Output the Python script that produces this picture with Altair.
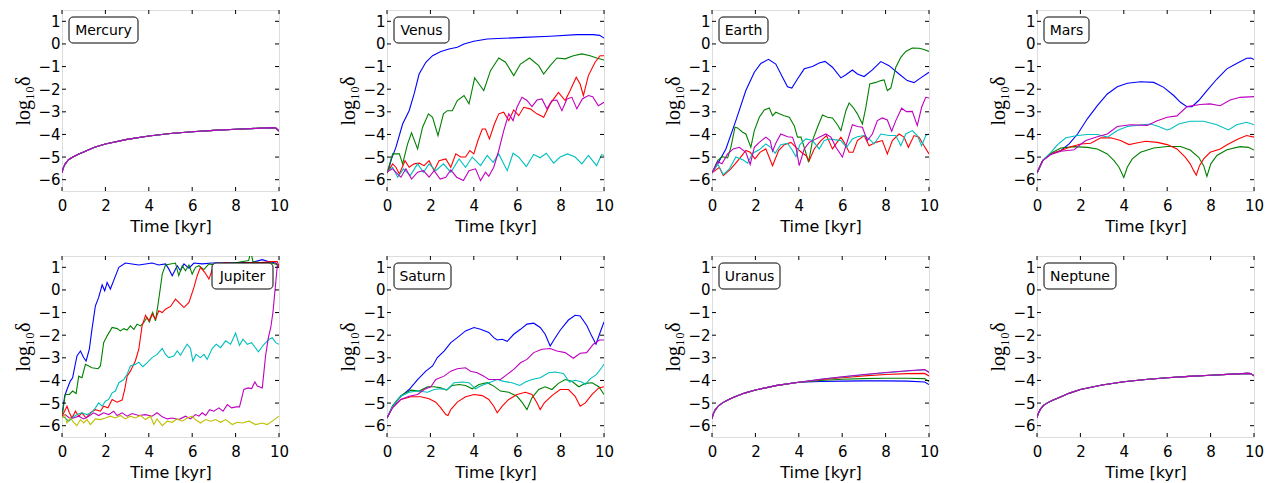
import altair as alt
import pandas as pd

# ---------------- axis / style lists ----------------
X_TICKS = [0, 2, 4, 6, 8, 10]
Y_TICKS = [-6, -5, -4, -3, -2, -1, 0, 1]
SERIES_COLORS = {"b": "#0000ff", "g": "#008000", "r": "#ff0000",
                 "c": "#00bfbf", "m": "#bf00bf", "y": "#bfbf00"}

# ---------------- data ----------------
# Mercury: all series coincide
mercury_t = [0, 0.05, 0.15, 0.3, 0.5, 0.75, 1, 1.5, 2, 3, 4, 5, 6, 7, 8, 9, 9.7, 9.85, 10]
mercury_v = [-5.7, -5.5, -5.3, -5.12, -5.0, -4.88, -4.78, -4.57, -4.42, -4.22, -4.07, -3.96,
             -3.88, -3.82, -3.77, -3.73, -3.7, -3.72, -3.85]

# Venus
venus_b_t = [0, 0.06, 0.2, 0.41, 0.72, 1.02, 1.25, 1.48, 1.79, 2.1, 2.48, 2.86, 3.24, 3.55, 4.0,
             4.62, 5.38, 6.3, 7.52, 8.75, 9.5, 9.8, 10]
venus_b_v = [-5.7, -5.6, -5.1, -4.57, -3.54, -2.95, -2.21, -1.33, -0.81, -0.52, -0.33, -0.22,
             -0.15, 0.0, 0.12, 0.22, 0.25, 0.29, 0.34, 0.41, 0.41, 0.38, 0.26]
venus_g_t = [0, 0.26, 0.57, 0.72, 0.95, 1.13, 1.41, 1.64, 1.91, 2.1, 2.35, 2.6, 2.78, 3.01, 3.24,
             3.55, 3.78, 4.04, 4.24, 4.46, 4.77, 5.15, 5.46, 5.84, 6.15, 6.57, 6.99, 7.22, 7.52,
             7.83, 8.21, 8.59, 8.98, 9.36, 9.66, 10]
venus_g_v = [-5.7, -4.86, -4.86, -5.3, -4.42, -3.93, -4.64, -3.68, -3.09, -3.24, -4.05, -3.09,
             -2.95, -2.95, -2.5, -2.28, -2.65, -1.5, -1.77, -2.06, -1.18, -0.62, -0.81, -1.4,
             -0.89, -0.62, -0.96, -1.33, -0.96, -0.62, -0.66, -0.52, -0.44, -0.52, -0.62, -0.71]
venus_r_t = [0, 0.26, 0.41, 0.57, 0.83, 1.02, 1.25, 1.48, 1.71, 1.94, 2.17, 2.4, 2.71, 2.94, 3.17,
             3.39, 3.62, 3.82, 4.0, 4.19, 4.39, 4.54, 4.72, 4.95, 5.15, 5.38, 5.61, 5.84, 6.07,
             6.3, 6.6, 6.91, 7.22, 7.52, 7.9, 8.21, 8.44, 8.72, 8.9, 9.05, 9.28, 9.59, 9.82, 10]
venus_r_v = [-5.7, -5.3, -5.45, -5.75, -5.16, -5.45, -5.3, -5.27, -5.38, -5.16, -5.6, -5.16,
             -5.08, -5.45, -4.86, -5.0, -5.0, -4.71, -4.86, -4.27, -3.76, -3.76, -4.2, -3.54,
             -3.09, -3.02, -3.39, -2.92, -3.17, -2.8, -2.87, -3.09, -3.24, -2.65, -2.14, -2.5,
             -2.06, -1.47, -1.77, -2.28, -1.4, -0.81, -0.52, -0.52]
venus_c_t = [0, 0.26, 0.49, 0.76, 1.07, 1.41, 1.68, 1.94, 2.25, 2.6, 2.94, 3.32, 3.62, 3.93, 4.31,
             4.62, 4.89, 5.15, 5.54, 5.81, 6.07, 6.42, 6.76, 7.06, 7.34, 7.68, 7.98, 8.32, 8.67,
             8.98, 9.28, 9.66, 9.89, 10]
venus_c_v = [-5.65, -5.45, -5.89, -5.52, -5.82, -5.3, -5.67, -5.3, -5.6, -5.3, -5.67, -5.08,
             -5.45, -5.0, -5.38, -4.93, -5.23, -4.86, -5.6, -4.83, -5.0, -5.42, -4.89, -5.03,
             -4.83, -5.27, -5.0, -4.86, -5.0, -5.3, -4.93, -5.38, -4.89, -4.93]
venus_m_t = [0, 0.26, 0.49, 0.64, 0.87, 1.13, 1.41, 1.68, 1.94, 2.17, 2.45, 2.71, 2.94, 3.21, 3.52,
             3.78, 4.08, 4.31, 4.54, 4.69, 4.92, 5.15, 5.38, 5.61, 5.81, 5.99, 6.22, 6.45, 6.68,
             6.91, 7.14, 7.37, 7.6, 7.83, 8.06, 8.29, 8.52, 8.75, 9.0, 9.28, 9.48, 9.74, 10]
venus_m_v = [-5.65, -5.52, -5.75, -5.89, -5.52, -5.97, -5.67, -5.6, -5.89, -5.6, -5.97, -5.89,
             -5.57, -5.89, -6.04, -5.6, -5.52, -6.04, -5.67, -5.85, -5.45, -4.71, -3.83, -3.09,
             -3.39, -2.8, -2.36, -2.5, -2.77, -2.48, -2.43, -2.87, -2.5, -2.48, -2.95, -2.43,
             -2.36, -2.87, -2.43, -2.28, -2.33, -2.73, -2.58]

# Earth
earth_b_t = [0, 0.26, 0.64, 1.1, 1.56, 1.95, 2.25, 2.6, 2.94, 3.25, 3.48, 3.68, 3.94, 4.25, 4.63,
             4.94, 5.21, 5.55, 5.94, 6.17, 6.47, 6.7, 7.01, 7.39, 7.78, 8.16, 8.62, 9.0, 9.31,
             9.62, 10]
earth_b_v = [-5.7, -5.3, -4.64, -3.39, -2.06, -1.25, -0.86, -0.68, -0.89, -1.47, -1.89, -1.95,
             -1.55, -1.1, -1.0, -0.84, -0.77, -1.03, -1.5, -1.36, -1.15, -1.33, -1.44, -1.15,
             -0.78, -0.96, -1.33, -1.62, -1.71, -1.5, -1.25]
earth_g_t = [0, 0.26, 0.46, 0.72, 0.87, 1.06, 1.18, 1.41, 1.56, 1.79, 1.95, 2.18, 2.41, 2.64, 2.79,
             2.94, 3.1, 3.33, 3.56, 3.79, 3.94, 4.1, 4.25, 4.45, 4.63, 4.86, 5.09, 5.32, 5.55,
             5.78, 5.94, 6.17, 6.32, 6.5, 6.7, 6.93, 7.09, 7.27, 7.55, 7.78, 7.93, 8.08, 8.24,
             8.47, 8.7, 8.93, 9.23, 9.54, 9.77, 10]
earth_g_v = [-5.7, -5.16, -4.98, -5.04, -4.57, -3.68, -3.71, -3.9, -3.98, -4.57, -3.83, -3.24,
             -2.92, -2.83, -3.17, -3.02, -3.09, -3.17, -3.24, -3.61, -4.12, -4.12, -4.57, -5.23,
             -4.27, -3.68, -3.14, -3.24, -3.27, -3.57, -3.83, -2.95, -2.61, -2.8, -3.09, -3.54,
             -2.8, -1.77, -1.7, -1.62, -1.59, -2.06, -1.95, -1.03, -0.59, -0.33, -0.18, -0.19,
             -0.25, -0.33]
earth_r_t = [0, 0.34, 0.52, 0.87, 1.26, 1.56, 1.76, 1.98, 2.21, 2.48, 2.79, 3.07, 3.33, 3.64, 3.87,
             4.17, 4.33, 4.48, 4.71, 5.02, 5.28, 5.55, 5.71, 5.94, 6.09, 6.32, 6.5, 6.7, 7.01,
             7.24, 7.55, 7.85, 8.08, 8.31, 8.62, 8.85, 9.05, 9.31, 9.54, 9.77, 10]
earth_r_v = [-5.7, -5.45, -5.82, -5.52, -5.08, -4.71, -4.79, -5.08, -4.79, -4.64, -5.38, -4.71,
             -4.45, -4.35, -4.57, -4.83, -4.93, -5.16, -4.64, -4.27, -4.05, -4.64, -4.42, -4.12,
             -4.35, -4.79, -4.79, -4.27, -4.05, -4.5, -4.35, -4.27, -4.86, -4.27, -3.98, -4.12,
             -4.57, -4.05, -4.12, -4.5, -4.86]
earth_c_t = [0, 0.26, 0.52, 0.8, 1.1, 1.44, 1.64, 1.87, 2.18, 2.48, 2.71, 2.91, 3.17, 3.48, 3.71,
             3.87, 4.05, 4.33, 4.63, 4.94, 5.17, 5.43, 5.71, 5.94, 6.2, 6.47, 6.7, 7.01, 7.24,
             7.47, 7.78, 8.16, 8.47, 8.7, 8.93, 9.23, 9.46, 9.66, 9.85, 10]
earth_c_v = [-5.7, -5.3, -5.78, -5.52, -5.0, -5.13, -5.27, -4.83, -4.68, -4.42, -4.57, -4.83,
             -4.45, -4.39, -4.71, -4.98, -4.45, -4.2, -4.27, -4.64, -4.27, -4.2, -4.24, -4.27,
             -4.57, -4.2, -4.1, -4.05, -4.2, -4.42, -3.98, -4.05, -4.05, -4.5, -3.98, -3.83,
             -4.05, -4.5, -4.05, -3.98]
earth_m_t = [0, 0.26, 0.46, 0.72, 0.98, 1.26, 1.56, 1.76, 1.95, 2.18, 2.48, 2.68, 2.79, 2.94, 3.17,
             3.48, 3.71, 3.87, 4.02, 4.25, 4.48, 4.71, 4.94, 5.25, 5.48, 5.71, 6.01, 6.2, 6.47,
             6.7, 6.93, 7.16, 7.39, 7.62, 7.85, 8.08, 8.28, 8.47, 8.74, 8.96, 9.23, 9.46, 9.66,
             9.85, 10]
earth_m_v = [-5.7, -5.2, -5.3, -4.86, -4.64, -4.57, -4.79, -5.33, -4.57, -4.35, -4.12, -4.27,
             -4.74, -4.39, -3.98, -4.1, -4.12, -4.57, -5.38, -4.64, -4.35, -4.24, -4.12, -3.98,
             -4.12, -4.57, -5.0, -4.42, -3.57, -3.65, -3.68, -4.27, -3.98, -3.39, -3.27, -3.36,
             -3.86, -3.39, -2.84, -2.99, -2.98, -3.61, -2.8, -2.36, -2.39]

# Mars
mars_b_t = [0, 0.26, 0.64, 1.1, 1.48, 1.87, 2.32, 2.78, 3.24, 3.7, 4.16, 4.77, 5.38, 5.84, 6.3,
            6.61, 6.91, 7.14, 7.45, 7.83, 8.29, 8.75, 9.2, 9.66, 9.86, 10]
mars_b_v = [-5.7, -5.16, -4.86, -4.71, -4.42, -3.98, -3.31, -2.73, -2.21, -1.89, -1.74, -1.67,
            -1.7, -1.92, -2.28, -2.58, -2.77, -2.77, -2.5, -2.06, -1.55, -1.1, -0.86, -0.63,
            -0.62, -0.69]
mars_g_t = [0, 0.26, 0.64, 1.1, 1.71, 2.32, 2.78, 3.24, 3.55, 3.78, 4.0, 4.16, 4.39, 4.77, 5.38,
            6.0, 6.61, 7.06, 7.45, 7.68, 7.83, 8.01, 8.29, 8.75, 9.36, 9.74, 10]
mars_g_v = [-5.7, -5.16, -4.83, -4.6, -4.54, -4.57, -4.64, -4.86, -5.16, -5.45, -5.9, -5.45,
            -5.08, -4.79, -4.6, -4.53, -4.53, -4.69, -5.01, -5.38, -5.85, -5.3, -4.93, -4.68,
            -4.54, -4.57, -4.69]
mars_r_t = [0, 0.26, 0.64, 1.1, 1.56, 2.02, 2.48, 2.94, 3.39, 3.85, 4.24, 4.54, 5.0, 5.54, 6.0,
            6.45, 6.83, 7.06, 7.22, 7.34, 7.49, 7.68, 7.98, 8.44, 8.82, 9.27, 9.66, 10]
mars_r_v = [-5.7, -5.16, -4.86, -4.71, -4.54, -4.42, -4.39, -4.15, -4.15, -4.27, -4.45, -4.39,
            -4.3, -4.35, -4.45, -4.64, -5.0, -5.3, -5.6, -5.8, -5.38, -5.08, -4.79, -4.64,
            -4.42, -4.2, -4.05, -4.12]
mars_c_t = [0, 0.26, 0.64, 0.95, 1.33, 1.87, 2.32, 2.78, 3.24, 3.7, 4.16, 4.77, 5.23, 5.61, 5.99,
            6.15, 6.53, 7.06, 7.68, 8.29, 8.82, 9.2, 9.66, 10]
mars_c_v = [-5.7, -5.16, -4.79, -4.45, -4.15, -4.05, -4.0, -4.0, -4.12, -3.83, -3.65, -3.58,
            -3.54, -3.65, -3.8, -3.76, -3.54, -3.42, -3.42, -3.57, -3.8, -3.57, -3.46, -3.57]
mars_m_t = [0, 0.26, 0.64, 1.1, 1.71, 1.94, 2.25, 2.78, 3.24, 3.7, 4.31, 5.08, 5.54, 6.0, 6.45,
            6.91, 7.52, 7.98, 8.44, 8.9, 9.36, 10]
mars_m_v = [-5.7, -5.16, -4.89, -4.74, -4.68, -4.49, -4.27, -4.1, -3.98, -3.65, -3.57, -3.6,
            -3.39, -3.24, -3.18, -2.77, -2.68, -2.65, -2.73, -2.48, -2.36, -2.33]

# Jupiter
jupiter_b_t = [0, 0.12, 0.23, 0.38, 0.49, 0.58, 0.69, 0.85, 1.0, 1.11, 1.26, 1.38, 1.54, 1.69,
               1.85, 1.97, 2.08, 2.23, 2.38, 2.62, 2.92, 3.23, 3.54, 3.85, 4.15, 4.46, 4.77,
               4.92, 5.08, 5.31, 5.46, 5.62, 5.85, 6.08, 6.46, 6.92, 7.85, 8.77, 9.23, 9.54,
               9.85, 10]
jupiter_b_v = [-5.58, -4.7, -4.4, -4.03, -3.88, -3.44, -2.92, -2.7, -3.0, -3.14, -2.62, -1.74,
               -0.7, -0.33, 0.22, -0.04, 0.33, 0.04, 0.41, 1.0, 1.19, 1.15, 1.1, 1.15, 1.19, 1.1,
               1.15, 0.93, 0.63, 1.07, 0.85, 1.15, 0.96, 1.19, 1.15, 1.19, 1.19, 1.22, 1.34,
               1.25, 1.19, 1.04]
jupiter_g_t = [0, 0.15, 0.34, 0.49, 0.65, 0.77, 0.92, 1.08, 1.38, 1.66, 1.77, 1.92, 2.08, 2.31,
               2.54, 2.69, 2.85, 3.0, 3.15, 3.31, 3.46, 3.62, 3.77, 3.92, 4.03, 4.18, 4.31, 4.46,
               4.62, 4.77, 5.0, 5.23, 5.38, 5.54, 5.69, 5.85, 6.0, 6.15, 6.31, 6.54, 6.77, 7.0,
               7.5, 8.0, 8.6, 8.7, 8.8, 9.2, 9.6, 10]
jupiter_g_v = [-5.58, -4.62, -4.62, -4.47, -4.58, -3.81, -3.88, -3.29, -3.44, -3.48, -3.36,
               -2.33, -2.03, -1.66, -1.71, -1.81, -1.71, -1.77, -1.59, -1.74, -1.51, -1.59,
               -1.44, -1.22, -1.41, -1.0, -1.37, -0.41, 0.7, 1.1, 1.15, 1.19, 0.63, 1.07, 0.85,
               1.1, 0.7, 1.0, 1.07, 0.9, 1.15, 1.1, 1.15, 1.2, 1.3, 1.7, 1.25, 1.2, 1.2, 1.1]
jupiter_r_t = [0, 0.12, 0.23, 0.34, 0.46, 0.62, 0.77, 0.92, 1.11, 1.31, 1.54, 1.77, 1.92, 2.12,
               2.31, 2.54, 2.77, 2.89, 3.0, 3.15, 3.38, 3.54, 3.69, 3.85, 4.0, 4.15, 4.31, 4.46,
               4.62, 4.77, 5.0, 5.23, 5.46, 5.62, 5.85, 6.08, 6.23, 6.38, 6.58, 6.77, 7.0, 7.5,
               8.0, 8.5, 9.0, 9.69, 9.92, 10]
jupiter_r_v = [-5.58, -5.36, -5.14, -5.43, -5.66, -5.36, -5.58, -5.43, -5.66, -5.43, -5.29,
               -5.36, -5.14, -5.21, -4.84, -4.96, -4.87, -4.4, -3.81, -3.59, -3.14, -2.62,
               -1.59, -1.12, -1.37, -1.07, -1.29, -0.92, -1.0, -0.85, -0.73, -0.41, -0.63,
               -0.78, -0.55, 0.11, 0.63, 1.0, 0.78, 0.48, 1.1, 1.2, 1.15, 1.2, 1.2, 1.25, 1.25,
               1.04]
jupiter_c_t = [0, 0.15, 0.31, 0.46, 0.69, 0.92, 1.15, 1.35, 1.54, 1.69, 1.85, 2.0, 2.15, 2.31,
               2.46, 2.62, 2.85, 3.0, 3.15, 3.38, 3.54, 3.72, 3.92, 4.15, 4.38, 4.62, 4.77, 4.92,
               5.15, 5.31, 5.46, 5.62, 5.77, 5.92, 6.03, 6.18, 6.38, 6.54, 6.69, 6.92, 7.11,
               7.31, 7.54, 7.77, 8.0, 8.18, 8.34, 8.54, 8.74, 9.05, 9.31, 9.54, 9.69, 9.85, 10]
jupiter_c_v = [-5.58, -5.66, -5.8, -5.66, -5.51, -5.43, -5.51, -5.43, -5.21, -4.99, -5.14,
               -4.92, -4.84, -4.55, -4.47, -4.1, -3.96, -3.73, -3.36, -3.29, -3.19, -3.39,
               -3.22, -2.99, -2.85, -2.59, -2.85, -2.99, -2.92, -2.7, -2.89, -2.62, -2.4, -2.59,
               -3.14, -2.85, -2.99, -2.85, -3.07, -2.59, -2.4, -2.55, -2.25, -2.4, -1.91, -2.45,
               -2.18, -2.4, -2.33, -2.74, -2.4, -2.18, -2.11, -2.33, -2.4]
jupiter_m_t = [0, 0.15, 0.34, 0.54, 0.77, 1.0, 1.23, 1.46, 1.69, 1.92, 2.15, 2.38, 2.54, 2.77,
               3.0, 3.23, 3.54, 3.85, 4.15, 4.38, 4.62, 4.85, 5.08, 5.38, 5.69, 5.92, 6.15, 6.31,
               6.46, 6.62, 6.8, 7.0, 7.23, 7.42, 7.62, 7.81, 8.03, 8.18, 8.38, 8.58, 8.74, 8.89,
               9.0, 9.23, 9.38, 9.51, 9.62, 9.72, 9.85, 9.92, 10]
jupiter_m_v = [-5.58, -5.51, -5.66, -5.66, -5.58, -5.7, -5.58, -5.43, -5.55, -5.43, -5.51,
               -5.36, -5.55, -5.43, -5.58, -5.46, -5.55, -5.51, -5.58, -5.43, -5.61, -5.7,
               -5.66, -5.73, -5.58, -5.7, -5.51, -5.58, -5.43, -5.55, -5.29, -5.36, -5.21,
               -5.36, -5.07, -5.21, -5.17, -5.17, -4.4, -4.33, -4.36, -4.07, -4.25, -4.33,
               -2.92, -2.11, -1.66, -1.0, 0.33, 1.07, 1.04]
jupiter_y_t = [0, 0.12, 0.23, 0.38, 0.54, 0.69, 0.85, 1.0, 1.15, 1.31, 1.54, 1.77, 2.0, 2.23,
               2.46, 2.69, 2.92, 3.15, 3.38, 3.62, 3.85, 4.08, 4.23, 4.38, 4.62, 4.85, 5.08,
               5.31, 5.54, 5.77, 6.0, 6.15, 6.38, 6.62, 6.85, 7.08, 7.31, 7.54, 7.85, 8.08,
               8.31, 8.62, 8.92, 9.23, 9.46, 9.69, 10]
jupiter_y_v = [-5.66, -5.51, -5.88, -5.66, -5.85, -6.0, -5.73, -5.88, -5.73, -5.95, -5.7,
               -5.73, -5.66, -5.58, -5.66, -5.55, -5.7, -5.58, -5.66, -5.55, -5.73, -5.58,
               -5.95, -5.7, -6.0, -5.8, -5.85, -5.7, -5.8, -5.66, -5.58, -5.73, -5.88, -5.73,
               -5.8, -5.73, -5.85, -5.73, -5.95, -5.85, -5.88, -5.8, -5.95, -5.88, -5.95,
               -5.8, -5.58]

# Saturn
saturn_b_t = [0, 0.26, 0.64, 1.02, 1.41, 1.79, 2.1, 2.32, 2.63, 2.94, 3.24, 3.62, 4.01, 4.31,
              4.69, 4.92, 5.08, 5.31, 5.54, 5.84, 6.15, 6.45, 6.76, 7.06, 7.29, 7.52, 7.71,
              7.98, 8.36, 8.67, 8.9, 9.2, 9.43, 9.63, 9.82, 10]
saturn_b_v = [-5.66, -5.14, -4.7, -4.4, -3.96, -3.59, -3.36, -2.99, -2.7, -2.33, -2.11, -1.81,
              -1.66, -1.74, -1.88, -2.11, -2.21, -2.18, -2.27, -1.96, -1.74, -1.51, -1.47,
              -1.66, -1.96, -2.48, -2.18, -1.78, -1.33, -1.12, -1.15, -1.56, -2.03, -2.4,
              -1.88, -1.41]
saturn_g_t = [0, 0.26, 0.64, 1.1, 1.48, 1.87, 2.17, 2.48, 2.75, 3.01, 3.32, 3.62, 3.93, 4.24,
              4.62, 4.92, 5.23, 5.61, 5.99, 6.22, 6.45, 6.68, 6.99, 7.29, 7.6, 7.9, 8.21, 8.52,
              8.84, 9.14, 9.45, 9.76, 10]
saturn_g_v = [-5.66, -5.11, -4.67, -4.43, -4.47, -4.28, -4.28, -4.33, -4.43, -4.22, -4.18,
              -4.22, -4.37, -4.18, -4.1, -4.25, -4.47, -4.52, -4.7, -4.96, -5.29, -4.77, -4.4,
              -4.28, -4.4, -4.13, -3.96, -4.04, -4.28, -4.13, -4.1, -4.28, -4.62]
saturn_r_t = [0, 0.26, 0.64, 1.1, 1.56, 1.94, 2.25, 2.48, 2.71, 2.81, 2.94, 3.24, 3.62, 4.01,
              4.39, 4.69, 4.92, 5.08, 5.31, 5.61, 5.99, 6.38, 6.68, 6.91, 7.06, 7.25, 7.6, 7.98,
              8.36, 8.67, 8.9, 9.14, 9.45, 9.76, 10]
saturn_r_v = [-5.66, -5.17, -4.84, -4.72, -4.72, -4.81, -4.96, -5.21, -5.51, -5.55, -5.29,
              -4.96, -4.72, -4.62, -4.67, -4.84, -5.14, -5.43, -5.14, -4.84, -4.62, -4.52,
              -4.62, -4.99, -5.29, -4.99, -4.67, -4.4, -4.4, -4.7, -5.14, -4.99, -4.62, -4.33,
              -4.28]
saturn_c_t = [0, 0.26, 0.64, 1.02, 1.41, 1.87, 2.17, 2.48, 2.78, 3.09, 3.47, 3.78, 4.08, 4.31,
              4.69, 5.08, 5.38, 5.76, 6.12, 6.38, 6.68, 7.06, 7.45, 7.75, 8.13, 8.41, 8.67,
              8.98, 9.14, 9.36, 9.66, 9.89, 10]
saturn_c_v = [-5.66, -5.14, -4.7, -4.52, -4.47, -4.52, -4.4, -4.37, -4.4, -4.1, -4.07, -4.1,
              -4.37, -4.25, -4.1, -3.96, -4.04, -4.1, -4.22, -4.07, -3.96, -3.88, -3.66, -3.63,
              -3.69, -4.07, -3.99, -4.07, -4.18, -3.93, -3.73, -3.44, -3.29]
saturn_m_t = [0, 0.26, 0.64, 1.02, 1.41, 1.71, 2.02, 2.25, 2.63, 2.94, 3.24, 3.62, 3.85, 4.16,
              4.46, 4.69, 5.0, 5.23, 5.54, 5.84, 6.15, 6.45, 6.76, 7.14, 7.52, 7.83, 8.21, 8.59,
              8.9, 9.2, 9.51, 9.79, 10]
saturn_m_v = [-5.66, -5.21, -4.84, -4.7, -4.62, -4.4, -4.28, -3.96, -3.81, -3.59, -3.48, -3.44,
              -3.59, -3.66, -3.81, -3.96, -3.96, -3.96, -3.73, -3.51, -3.22, -3.07, -2.77,
              -2.62, -2.59, -2.7, -2.77, -3.02, -2.8, -2.77, -2.4, -2.21, -2.21]

# Uranus: common early part, then separate tails
uranus_head_t = [0, 0.05, 0.15, 0.3, 0.5, 0.75, 1, 1.5, 2, 3, 4]
uranus_head_v = [-5.7, -5.5, -5.3, -5.12, -4.98, -4.85, -4.74, -4.56, -4.42, -4.22, -4.08]
uranus_tail_t = [5, 6, 7, 8, 9, 9.8, 10]
uranus_b_tail = [-4.05, -4.03, -4.02, -4.02, -4.03, -4.07, -4.18]
uranus_g_tail = [-4.0, -3.95, -3.92, -3.9, -3.9, -3.92, -4.05]
uranus_r_tail = [-3.97, -3.88, -3.8, -3.74, -3.7, -3.69, -3.8]
uranus_c_tail = [-3.95, -3.85, -3.75, -3.66, -3.58, -3.53, -3.62]
uranus_m_tail = [-3.95, -3.84, -3.74, -3.65, -3.57, -3.52, -3.65]

# Neptune: all series coincide
neptune_t = [0, 0.05, 0.15, 0.3, 0.5, 0.75, 1, 1.5, 2, 3, 4, 5, 6, 7, 8, 9, 9.7, 9.85, 10]
neptune_v = [-5.65, -5.48, -5.28, -5.1, -4.98, -4.86, -4.76, -4.56, -4.4, -4.2, -4.06, -3.96,
             -3.88, -3.82, -3.77, -3.72, -3.69, -3.7, -3.8]

# ---------------- assemble ----------------
u_t = uranus_head_t + uranus_tail_t
PANELS = [
    ("Mercury", [(k, mercury_t, mercury_v) for k in "bgrcm"]),
    ("Venus", [("b", venus_b_t, venus_b_v), ("g", venus_g_t, venus_g_v),
               ("r", venus_r_t, venus_r_v), ("c", venus_c_t, venus_c_v),
               ("m", venus_m_t, venus_m_v)]),
    ("Earth", [("b", earth_b_t, earth_b_v), ("g", earth_g_t, earth_g_v),
               ("r", earth_r_t, earth_r_v), ("c", earth_c_t, earth_c_v),
               ("m", earth_m_t, earth_m_v)]),
    ("Mars", [("b", mars_b_t, mars_b_v), ("g", mars_g_t, mars_g_v),
              ("r", mars_r_t, mars_r_v), ("c", mars_c_t, mars_c_v),
              ("m", mars_m_t, mars_m_v)]),
    ("Jupiter", [("b", jupiter_b_t, jupiter_b_v), ("g", jupiter_g_t, jupiter_g_v),
                 ("r", jupiter_r_t, jupiter_r_v), ("c", jupiter_c_t, jupiter_c_v),
                 ("m", jupiter_m_t, jupiter_m_v), ("y", jupiter_y_t, jupiter_y_v)]),
    ("Saturn", [("b", saturn_b_t, saturn_b_v), ("g", saturn_g_t, saturn_g_v),
                ("r", saturn_r_t, saturn_r_v), ("c", saturn_c_t, saturn_c_v),
                ("m", saturn_m_t, saturn_m_v)]),
    ("Uranus", [("b", u_t, uranus_head_v + uranus_b_tail),
                ("g", u_t, uranus_head_v + uranus_g_tail),
                ("r", u_t, uranus_head_v + uranus_r_tail),
                ("c", u_t, uranus_head_v + uranus_c_tail),
                ("m", u_t, uranus_head_v + uranus_m_tail)]),
    ("Neptune", [(k, neptune_t, neptune_v) for k in "bgrcm"]),
]

# label box sizes (style, not data)
BOX_W = {"Mercury": 69, "Venus": 55, "Earth": 49, "Mars": 45, "Jupiter": 61,
         "Saturn": 57, "Uranus": 61, "Neptune": 72}
BOX_RIGHT = {"Jupiter"}

W, H = 217, 181
TICK = 4
MINUS_EXPR = "datum.value < 0 ? '\u2212' + format(-datum.value, 'd') : datum.label"

xscale = alt.Scale(domain=[0, 10], nice=False, zero=False)
yscale = alt.Scale(domain=[-6.5, 1.5], nice=False, zero=False)
xaxis = alt.Axis(values=X_TICKS, title="Time [kyr]", grid=False, ticks=False, domain=False,
                 labelFont="DejaVu Sans", labelFontSize=15, labelPadding=7, labelColor="black",
                 titleFont="DejaVu Sans", titleFontSize=16, titleFontWeight="normal",
                 titleColor="black", titlePadding=5, labelFlush=False)
yaxis = alt.Axis(values=Y_TICKS, title="log₁₀δ", grid=False, ticks=False, domain=False,
                 labelFont="DejaVu Sans", labelFontSize=15, labelPadding=2, labelColor="black",
                 labelExpr=MINUS_EXPR,
                 titleFont="Liberation Serif, DejaVu Serif", titleFontSize=20,
                 titleFontWeight="normal", titleColor="black", titlePadding=4, labelFlush=False)


def panel(name, series):
    layers = []
    for key, t, v in series:
        df = pd.DataFrame({"t": t, "v": v})
        layers.append(
            alt.Chart(df).mark_line(color=SERIES_COLORS[key], strokeWidth=1.1, clip=True)
            .encode(x=alt.X("t:Q", scale=xscale, axis=xaxis),
                    y=alt.Y("v:Q", scale=yscale, axis=yaxis))
        )
    xt = pd.DataFrame({"t": X_TICKS})
    yt = pd.DataFrame({"v": Y_TICKS})
    for y0, y1 in [(H, H - TICK), (0, TICK)]:
        layers.append(
            alt.Chart(xt).mark_rule(color="black", strokeWidth=1)
            .encode(x=alt.X("t:Q", scale=xscale, axis=xaxis),
                    y=alt.value(y0), y2=alt.value(y1))
        )
    for x0, x1 in [(0, TICK), (W - TICK, W)]:
        layers.append(
            alt.Chart(yt).mark_rule(color="black", strokeWidth=1)
            .encode(y=alt.Y("v:Q", scale=yscale, axis=yaxis),
                    x=alt.value(x0), x2=alt.value(x1))
        )
    bw = BOX_W[name]
    bx = (W - 6 - bw) if name in BOX_RIGHT else 7
    lab = pd.DataFrame({"label": [name]})
    layers.append(
        alt.Chart(lab).mark_rect(fill="white", stroke="black", strokeWidth=1, cornerRadius=4)
        .encode(x=alt.value(bx), x2=alt.value(bx + bw), y=alt.value(7), y2=alt.value(33))
    )
    layers.append(
        alt.Chart(lab).mark_text(font="DejaVu Sans", fontSize=14, color="black",
                                 align="center", baseline="middle")
        .encode(x=alt.value(bx + bw / 2), y=alt.value(20.5), text="label:N")
    )
    return alt.layer(*layers).properties(width=W, height=H)


charts = [panel(n, s) for n, s in PANELS]
row1 = alt.hconcat(*charts[:4], spacing=48)
row2 = alt.hconcat(*charts[4:], spacing=48)
chart = alt.vconcat(row1, row2, spacing=20).properties(
    padding={"left": 5, "top": 1, "right": 0, "bottom": 0}
).configure_view(
    stroke="black", strokeWidth=1
).configure(background="white")

chart.save("out.html", embed_options={"renderer": "svg", "actions": False})
